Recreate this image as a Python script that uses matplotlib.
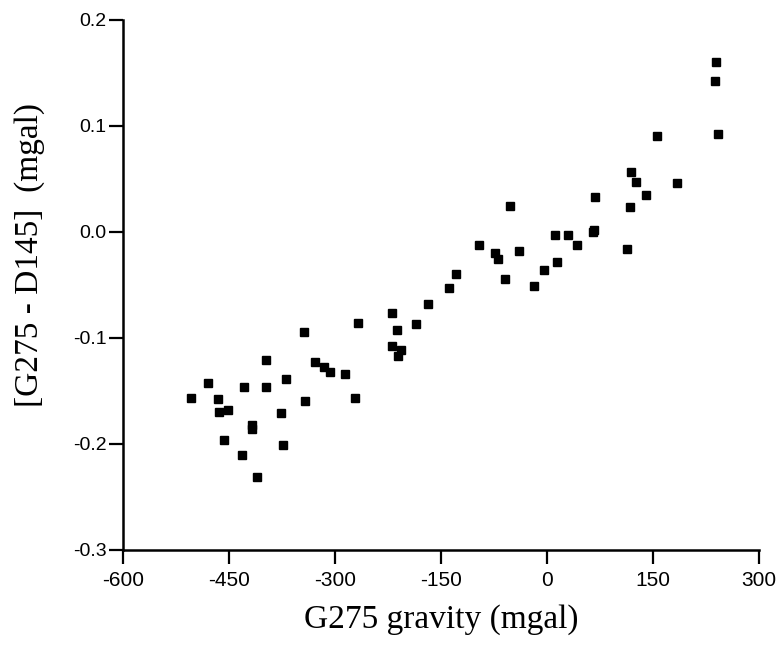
import numpy as np
import matplotlib
matplotlib.use('Agg')
import matplotlib.pyplot as plt

# G275 gravity (mgal) and G275 - D145 difference (mgal)
gravity = [-504, -480, -466, -464, -452, -457, -432, -429, -417, -417,
           -410, -398, -397, -377, -374, -369, -344, -343, -328, -316,
           -307, -286, -271, -268, -220, -220, -212, -211, -207, -185,
           -168, -138, -129, -96, -73, -70, -59, -52, -40, -18,
           -4, 12, 14, 30, 42, 65, 67, 68, 113, 118,
           119, 126, 140, 155, 184, 238, 239, 242]
diff = [-0.157, -0.142, -0.158, -0.170, -0.168, -0.196, -0.210, -0.146, -0.182, -0.186,
        -0.231, -0.121, -0.146, -0.171, -0.201, -0.139, -0.094, -0.159, -0.123, -0.127,
        -0.132, -0.134, -0.157, -0.086, -0.076, -0.108, -0.092, -0.117, -0.111, -0.087,
        -0.068, -0.053, -0.040, -0.0125, -0.0195, -0.025, -0.044, 0.025, -0.018, -0.051,
        -0.036, -0.003, -0.028, -0.003, -0.012, 0.000, 0.002, 0.033, -0.016, 0.024,
        0.057, 0.047, 0.035, 0.091, 0.046, 0.142, 0.160, 0.092]

xticks = [-600, -450, -300, -150, 0, 150, 300]
yticks = [-0.3, -0.2, -0.1, 0.0, 0.1, 0.2]

fig = plt.figure(figsize=(7.8, 6.47), dpi=100)
ax = fig.add_axes([123/780, 1 - 550/647, (759 - 123)/780, (550 - 20)/647])

ax.plot(gravity, diff, 's', color='black', markersize=5.8, clip_on=False)

ax.set_xlim(-600, 300)
ax.set_ylim(-0.3, 0.2)
ax.set_xticks(xticks)
ax.set_xticklabels(['%d' % v for v in xticks])
ax.set_yticks(yticks)
ax.set_yticklabels(['%.1f' % v for v in yticks])

for s in ['top', 'right']:
    ax.spines[s].set_visible(False)
for s in ['left', 'bottom']:
    ax.spines[s].set_linewidth(1.8)

ax.tick_params(axis='both', direction='out', width=1.6, length=10)
ax.tick_params(axis='y', labelsize=14, pad=2)
ax.tick_params(axis='x', labelsize=15, pad=5)
for lab in ax.get_xticklabels() + ax.get_yticklabels():
    lab.set_family('Liberation Sans')

fig.text(441/780, 1 - 628/647, 'G275 gravity (mgal)', ha='center', va='baseline',
         family='Liberation Serif', fontsize=24)
fig.text(30/780, 1 - 255/647, '[G275 - D145]  (mgal)', ha='center', va='center',
         rotation=90, family='Liberation Serif', fontsize=24)

fig.savefig('out.png', dpi=100)
